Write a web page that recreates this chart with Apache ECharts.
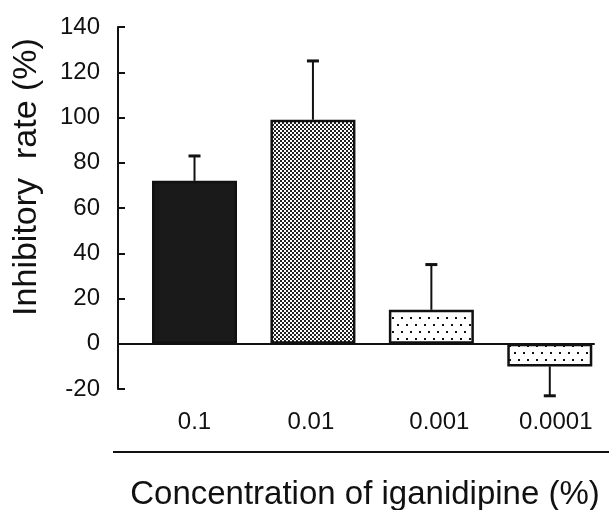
<!DOCTYPE html>
<html>
<head>
<meta charset="utf-8">
<script src="https://cdn.jsdelivr.net/npm/echarts@6/dist/echarts.min.js"></script>
<style>
html,body{margin:0;padding:0;background:#fff;}
#c{width:609px;height:510px;}
</style>
</head>
<body>
<div id="c"></div>
<script>
// ---- data ----
var categories = ['0.1', '0.01', '0.001', '0.0001'];
var means = [72, 99, 15, -10];
var errEnds = [83, 125, 35, -23];
var yTicks = { min: -20, max: 140, interval: 20 };
var labelShift = [0, -2, 8, 6];

// ---- patterns ----
function checker() {
  var c = document.createElement('canvas');
  c.width = 4; c.height = 4;
  var g = c.getContext('2d');
  g.fillStyle = '#fff'; g.fillRect(0, 0, 4, 4);
  g.fillStyle = '#222';
  g.fillRect(0, 0, 2, 2); g.fillRect(2, 2, 2, 2);
  return c;
}
function dots() {
  var c = document.createElement('canvas');
  c.width = 9; c.height = 14;
  var g = c.getContext('2d');
  g.fillStyle = '#fff'; g.fillRect(0, 0, 9, 14);
  g.fillStyle = '#111';
  g.fillRect(1, 2, 2, 2);
  g.fillRect(5, 9, 2, 2);
  return c;
}
var fills = [
  '#1a1a1a',
  { image: checker(), repeat: 'repeat' },
  { image: dots(), repeat: 'repeat' },
  { image: dots(), repeat: 'repeat' }
];

var FONT = 'Liberation Sans';
var INK = '#111';

var chart = echarts.init(document.getElementById('c'), null, { renderer: 'canvas' });

var catData = categories.map(function (c, i) {
  var s = labelShift[i];
  return {
    value: c,
    textStyle: { padding: s >= 0 ? [0, 0, 0, 2 * s] : [0, -2 * s, 0, 0] }
  };
});

chart.setOption({
  animation: false,
  backgroundColor: '#fff',
  grid: [
    { left: 118, top: 27, width: 476, height: 362 },
    { left: 135.3, top: 27, width: 474.7, height: 362 }
  ],
  xAxis: [
    {
      gridIndex: 0, type: 'category', data: categories,
      axisLine: { show: true, onZero: true, lineStyle: { color: INK, width: 2 } },
      axisTick: { show: false }, axisLabel: { show: false }, splitLine: { show: false }
    },
    {
      gridIndex: 1, type: 'category', data: catData, position: 'bottom',
      axisLine: { show: false, onZero: false }, axisTick: { show: false },
      axisLabel: { show: true, margin: 21, fontSize: 24, fontFamily: FONT, color: INK },
      splitLine: { show: false }
    }
  ],
  yAxis: [
    {
      gridIndex: 0, type: 'value', min: yTicks.min, max: yTicks.max, interval: yTicks.interval,
      axisLine: { show: true, lineStyle: { color: INK, width: 2 } },
      axisTick: { show: true, inside: true, length: 7, lineStyle: { color: INK, width: 2 } },
      axisLabel: { margin: 18, fontSize: 24, fontFamily: FONT, color: INK },
      splitLine: { show: false }
    },
    {
      gridIndex: 1, type: 'value', min: yTicks.min, max: yTicks.max, interval: yTicks.interval,
      show: false
    }
  ],
  series: [
    {
      type: 'bar', xAxisIndex: 1, yAxisIndex: 1, barWidth: 85,
      data: means.map(function (v, i) {
        return { value: v, itemStyle: { color: fills[i] } };
      }),
      itemStyle: { borderColor: INK, borderWidth: 2.5 },
      z: 3
    },
    {
      type: 'custom', xAxisIndex: 1, yAxisIndex: 1, z: 4,
      data: means.map(function (v, i) { return [i, v, errEnds[i]]; }),
      renderItem: function (params, api) {
        var x = api.value(0);
        var p0 = api.coord([x, api.value(1)]);
        var p1 = api.coord([x, api.value(2)]);
        return {
          type: 'group',
          children: [
            { type: 'line', shape: { x1: p0[0], y1: p0[1], x2: p1[0], y2: p1[1] },
              style: { stroke: INK, lineWidth: 2 } },
            { type: 'line', shape: { x1: p1[0] - 6, y1: p1[1], x2: p1[0] + 6, y2: p1[1] },
              style: { stroke: INK, lineWidth: 3 } }
          ]
        };
      }
    }
  ],
  graphic: [
    { type: 'line', shape: { x1: 113, y1: 452, x2: 609, y2: 452 },
      style: { stroke: INK, lineWidth: 2 } },
    { type: 'text', x: 365, y: 495,
      style: { text: 'Concentration of iganidipine (%)', font: '33px "Liberation Sans"',
               fill: INK, textAlign: 'center', textVerticalAlign: 'middle' } },
    { type: 'text', x: 27, y: 177, rotation: Math.PI / 2,
      style: { text: 'Inhibitory  rate (%)', font: '34px "Liberation Sans"',
               fill: INK, textAlign: 'center', textVerticalAlign: 'middle' } }
  ]
});
</script>
</body>
</html>
